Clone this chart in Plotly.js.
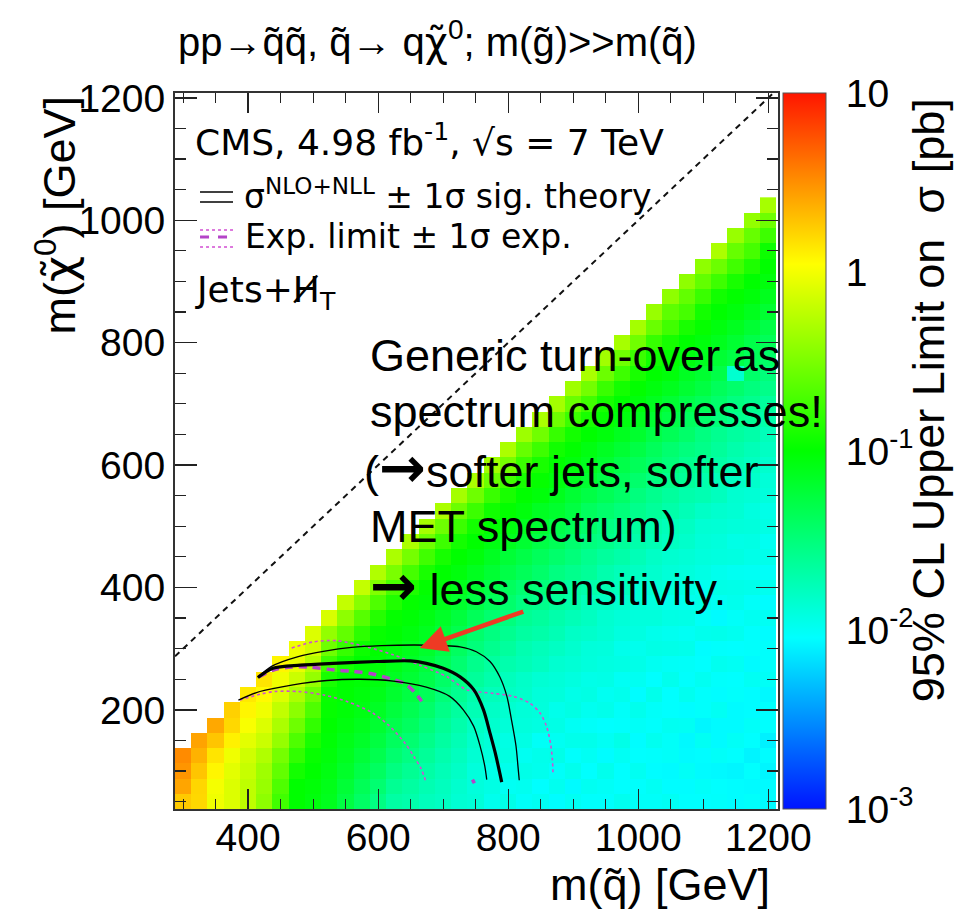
<!DOCTYPE html>
<html>
<head>
<meta charset="utf-8">
<script src="https://cdn.plot.ly/plotly-3.0.1.min.js"></script>
<style>
  html, body { margin: 0; padding: 0; background: #ffffff; }
  #chart { width: 972px; height: 917px; }
</style>
</head>
<body>
<div id="chart"></div>
<script>
// Squark masses (GeV), one heatmap column each
const mSquark = [300, 325, 350, 375, 400, 425, 450, 475, 500, 525, 550, 575, 600, 625, 650, 675, 700, 725,
                 750, 775, 800, 825, 850, 875, 900, 925, 950, 975, 1000, 1025, 1050, 1075, 1100, 1125, 1150, 1175, 1200];
// Neutralino (LSP) masses (GeV), one heatmap row each
const mLsp = [50, 75, 100, 125, 150, 175, 200, 225, 250, 275, 300, 325, 350, 375, 400, 425, 450, 475, 500, 525,
              550, 575, 600, 625, 650, 675, 700, 725, 750, 775, 800, 825, 850, 875, 900, 925, 950, 975, 1000, 1025];

// log10 of the 95% CL upper limit on sigma [pb]; one list per squark mass, from m(LSP)=50 upwards
const log10LimitPb = [
  [0.26, 0.41, 0.48, 0.52],
  [0.2, 0.21, 0.28, 0.36, 0.42],
  [-0.02, 0.0, 0.08, 0.15, 0.28, 0.4],
  [-0.1, -0.1, -0.07, -0.02, 0.1, 0.2, 0.23],
  [-0.22, -0.22, -0.19, -0.15, -0.07, 0.02, 0.08, 0.13],
  [-0.42, -0.38, -0.35, -0.28, -0.17, -0.1, -0.02, 0.06, 0.15],
  [-0.74, -0.68, -0.6, -0.52, -0.39, -0.3, -0.21, -0.1, -0.02, 0.08],
  [-1.0, -1.0, -0.92, -0.8, -0.68, -0.55, -0.43, -0.3, -0.17, -0.05, -0.02],
  [-1.05, -1.03, -1.0, -0.97, -0.9, -0.8, -0.68, -0.55, -0.39, -0.26, -0.14, -0.1],
  [-1.12, -1.1, -1.07, -1.04, -1.02, -1.0, -0.98, -0.97, -0.9, -0.75, -0.55, -0.4, -0.12],
  [-1.27, -1.22, -1.17, -1.13, -1.1, -1.06, -1.03, -1.01, -1.0, -0.92, -0.78, -0.6, -0.42, -0.2],
  [-1.41, -1.35, -1.29, -1.23, -1.17, -1.12, -1.08, -1.05, -1.02, -1.0, -0.95, -0.82, -0.65, -0.45, -0.2],
  [-1.53, -1.46, -1.39, -1.32, -1.26, -1.2, -1.15, -1.1, -1.06, -1.03, -1.0, -0.97, -0.85, -0.68, -0.48, -0.28],
  [-1.67, -1.6, -1.52, -1.45, -1.38, -1.31, -1.25, -1.19, -1.14, -1.09, -1.05, -1.01, -0.98, -0.87, -0.7, -0.5, -0.3],
  [-1.7, -1.66, -1.6, -1.53, -1.46, -1.39, -1.33, -1.27, -1.21, -1.16, -1.11, -1.06, -1.02, -0.98, -0.88, -0.72, -0.52, -0.3],
  [-1.77, -1.73, -1.68, -1.62, -1.56, -1.5, -1.43, -1.36, -1.3, -1.24, -1.18, -1.13, -1.08, -1.03, -0.99, -0.9, -0.74, -0.55, -0.32],
  [-1.8, -1.78, -1.75, -1.71, -1.66, -1.61, -1.55, -1.49, -1.42, -1.35, -1.28, -1.22, -1.16, -1.1, -1.04, -1.0, -0.91, -0.75, -0.55, -0.3],
  [-1.86, -1.84, -1.81, -1.78, -1.74, -1.7, -1.65, -1.59, -1.53, -1.46, -1.39, -1.32, -1.25, -1.18, -1.11, -1.05, -1.0, -0.92, -0.76, -0.56, -0.33],
  [-1.88, -1.9, -1.9, -1.86, -1.83, -1.8, -1.74, -1.7, -1.63, -1.57, -1.5, -1.44, -1.36, -1.28, -1.2, -1.13, -1.05, -1.0, -0.92, -0.76, -0.55, -0.3],
  [-1.97, -1.93, -1.95, -1.9, -1.88, -1.84, -1.81, -1.76, -1.7, -1.65, -1.58, -1.52, -1.45, -1.37, -1.3, -1.21, -1.14, -1.07, -1.0, -0.93, -0.77, -0.56, -0.34],
  [-1.95, -2.0, -1.96, -1.92, -1.93, -1.88, -1.85, -1.8, -1.77, -1.71, -1.64, -1.59, -1.51, -1.44, -1.38, -1.29, -1.22, -1.12, -1.06, -0.99, -0.9, -0.74, -0.52, -0.3],
  [-2.02, -1.98, -1.95, -1.99, -1.93, -1.9, -1.88, -1.83, -1.82, -1.75, -1.72, -1.66, -1.6, -1.53, -1.46, -1.36, -1.29, -1.2, -1.13, -1.05, -1.0, -0.91, -0.76, -0.58, -0.36],
  [-1.99, -2.04, -1.97, -1.96, -2.01, -1.92, -1.9, -1.89, -1.86, -1.79, -1.76, -1.69, -1.64, -1.57, -1.5, -1.43, -1.37, -1.28, -1.2, -1.14, -1.04, -0.98, -0.9, -0.75, -0.54, -0.3],
  [-2.05, -1.98, -2.02, -1.95, -1.99, -1.94, -1.96, -1.9, -1.88, -1.85, -1.8, -1.74, -1.7, -1.63, -1.58, -1.52, -1.44, -1.35, -1.3, -1.19, -1.12, -1.06, -1.0, -0.93, -0.78, -0.55, -0.33],
  [-2.0, -2.06, -1.97, -2.03, -1.96, -2.0, -1.93, -1.95, -1.91, -1.87, -1.84, -1.81, -1.75, -1.68, -1.65, -1.57, -1.5, -1.45, -1.36, -1.27, -1.21, -1.13, -1.05, -0.99, -0.92, -0.76, -0.57, -0.35],
  [-2.03, -1.99, -2.04, -2.0, -1.96, -2.02, -1.98, -1.93, -1.95, -1.9, -1.89, -1.83, -1.79, -1.77, -1.7, -1.62, -1.58, -1.51, -1.43, -1.38, -1.28, -1.2, -1.12, -1.07, -1.0, -0.9, -0.74, -0.53, -0.31],
  [-2.03, -2.01, -1.97, -2.05, -2.0, -2.04, -1.96, -1.99, -1.94, -1.92, -1.9, -1.86, -1.85, -1.8, -1.73, -1.71, -1.64, -1.56, -1.52, -1.44, -1.35, -1.29, -1.2, -1.14, -1.05, -0.98, -0.91, -0.77, -0.56, -0.34],
  [-1.98, -2.04, -2.04, -2.0, -1.95, -2.03, -2.02, -1.97, -2.0, -1.93, -1.96, -1.91, -1.88, -1.84, -1.78, -1.76, -1.69, -1.63, -1.59, -1.5, -1.42, -1.37, -1.3, -1.21, -1.13, -1.06, -1.0, -0.92, -0.75, -0.55, -0.32],
  [-2.02, -2.03, -1.99, -2.04, -2.05, -2.01, -1.97, -2.05, -1.99, -1.95, -1.97, -1.92, -1.9, -1.87, -1.86, -1.8, -1.75, -1.7, -1.65, -1.57, -1.51, -1.44, -1.36, -1.28, -1.19, -1.12, -1.05, -0.99, -0.9, -0.76, -0.54, -0.33],
  [-2.02, -2.0, -2.05, -2.03, -1.98, -2.03, -2.02, -1.96, -2.04, -1.99, -1.94, -1.96, -1.9, -1.91, -1.87, -1.84, -1.81, -1.74, -1.71, -1.63, -1.58, -1.52, -1.43, -1.37, -1.29, -1.2, -1.13, -1.06, -1.0, -0.93, -0.78, -0.57, -0.38],
  [-2.0, -2.05, -2.06, -2.02, -2.02, -1.99, -2.04, -2.04, -1.97, -2.01, -1.95, -1.98, -1.93, -1.96, -1.89, -1.88, -1.85, -1.79, -1.76, -1.69, -1.64, -1.57, -1.5, -1.45, -1.35, -1.28, -1.21, -1.12, -1.04, -0.99, -0.91, -0.74, -0.62, -0.42],
  [-2.04, -2.05, -2.01, -2.06, -2.07, -2.0, -2.05, -1.98, -2.03, -2.02, -1.96, -2.0, -1.94, -1.97, -1.92, -1.9, -1.87, -1.83, -1.8, -1.75, -1.7, -1.62, -1.58, -1.51, -1.43, -1.38, -1.3, -1.2, -1.14, -1.06, -1.0, -0.9, -0.72, -0.6, -0.42],
  [-2.04, -2.02, -2.06, -2.05, -2.0, -2.08, -2.03, -2.03, -1.99, -2.04, -2.05, -1.97, -2.01, -1.95, -1.98, -1.93, -1.9, -1.88, -1.86, -1.81, -1.73, -1.71, -1.64, -1.56, -1.52, -1.44, -1.36, -1.27, -1.2, -1.13, -1.05, -0.98, -0.92, -0.77, -0.6, -0.42],
  [-2.03, -2.04, -2.07, -2.02, -2.06, -2.06, -2.0, -2.05, -2.03, -1.98, -2.03, -1.96, -2.06, -1.99, -1.94, -1.97, -1.91, -1.9, -1.87, -1.84, -1.78, -1.76, -1.68, -1.63, -1.59, -1.5, -1.44, -1.37, -1.29, -1.21, -1.12, -1.06, -1.0, -0.93, -0.75, -0.56, -0.3],
  [-2.05, -2.05, -2.08, -2.04, -2.01, -2.06, -2.06, -2.03, -2.04, -2.0, -2.04, -1.98, -2.02, -1.97, -1.95, -1.99, -1.92, -1.94, -1.89, -1.86, -1.85, -1.8, -1.74, -1.7, -1.65, -1.57, -1.52, -1.44, -1.85, -1.28, -1.2, -1.13, -1.05, -0.99, -0.9, -0.74, -0.58, -0.38],
  [-2.03, -2.06, -2.04, -2.09, -2.04, -2.02, -2.05, -2.05, -2.0, -2.06, -2.03, -2.03, -1.99, -2.02, -1.96, -2.0, -1.95, -1.93, -1.9, -1.91, -1.87, -1.83, -1.79, -1.75, -1.69, -1.62, -1.58, -1.51, -1.43, -1.37, -1.3, -1.21, -1.12, -1.04, -1.0, -0.88, -0.72, -0.58, -0.4],
  [-2.06, -2.06, -2.08, -2.05, -2.1, -2.04, -2.04, -2.07, -2.01, -2.03, -2.03, -2.05, -2.0, -2.05, -1.98, -2.02, -1.96, -1.99, -1.93, -1.95, -1.9, -1.88, -1.84, -1.8, -1.76, -1.7, -1.64, -1.56, -1.5, -1.42, -1.36, -1.29, -1.2, -1.12, -1.05, -1.0, -0.95, -0.75, -0.55, -0.32]
];

// Exclusion contours in the (m(squark), m(LSP)) plane, GeV
const obsX = [415, 438, 480, 531, 598, 649, 674, 700, 726, 747, 762, 772, 780, 787, 790];
const obsY = [253, 268, 273, 276, 279, 280, 276, 268, 254, 233, 200, 162, 130, 97, 82];
const obsUpX = [415, 436, 477, 518, 559, 605, 656, 700, 726, 751, 772, 787, 798, 805, 812, 815, 817];
const obsUpY = [253, 271, 287, 296, 302, 305, 306, 305, 303, 295, 279, 254, 222, 184, 141, 108, 85];
const obsDnX = [385, 418, 469, 521, 572, 623, 674, 710, 731, 747, 757, 764, 767];
const obsDnY = [216, 230, 241, 248, 250, 247, 237, 222, 200, 173, 140, 108, 86];
const expX = [416, 441, 467, 493, 533, 559, 590, 621, 641, 655, 667];
const expY = [254, 266, 270, 270, 265, 263, 259, 250, 243, 230, 214];
const expTailX = [745, 748];
const expTailY = [86, 80];
const expUpX = [467, 500, 536, 582, 623, 664, 706, 736, 777, 808, 833, 849, 859, 865, 868, 869];
const expUpY = [301, 311, 313, 303, 290, 273, 254, 233, 227, 222, 211, 195, 173, 146, 119, 94];
const expDnX = [387, 420, 441, 477, 518, 554, 590, 615, 641, 656, 666, 674];
const expDnY = [216, 226, 230, 230, 224, 213, 196, 176, 146, 122, 104, 81];
// m(LSP) = m(squark) reference line
const diagMass = [287.5, 1215];

// colour bar ticks (log10 sigma)
const cbMajor = [-3, -2, -1, 0, 1];
const cbMajorText = ['10<sup>-3</sup>', '10<sup>-2</sup>', '10<sup>-1</sup>', '1', '10'];

// ---- build the heatmap matrix (rows = LSP mass, columns = squark mass) ----
const z = mLsp.map((_, r) => mSquark.map((_, c) => {
  const col = log10LimitPb[c];
  return (col && r < col.length) ? col[r] : null;
}));

// rainbow palette: hue runs from blue (low limits) to red (high limits)
function hueToRgb(h) {
  const f = n => {
    const k = (n + h / 30) % 12;
    return 0.5 - 0.5 * Math.max(-1, Math.min(k - 3, 9 - k, 1));
  };
  return 'rgb(' + Math.round(255 * f(0)) + ',' + Math.round(255 * f(8)) + ',' + Math.round(255 * f(4)) + ')';
}
const palette = [];
for (let i = 0; i <= 46; i++) {
  const t = i / 46;
  palette.push([t, hueToRgb(235 - 230 * t)]);
}

const cbMinor = [];
for (let d = -3; d < 1; d++) {
  for (let m = 2; m <= 9; m++) cbMinor.push(d + Math.log10(m));
}

const FONT = '"Liberation Sans", Arial, Helvetica, sans-serif';
const WIDE = '"DejaVu Sans", "Liberation Sans", sans-serif';
const TXT = '#000000';
const MAG_DASH = '#b444c8';
const MAG_DOT = '#d24ed2';
const CLEAR = [[0, 'rgba(0,0,0,0)'], [1, 'rgba(0,0,0,0)']];

const cbCommon = {
  x: 1.0083, xanchor: 'left', xref: 'paper', xpad: 0,
  y: 0.5, yanchor: 'middle', ypad: 0,
  len: 1, lenmode: 'fraction',
  thickness: 43, thicknessmode: 'pixels'
};

// transparent scale used only to draw tick marks on top of the gradient
function tickScale(vals, len) {
  return {
    type: 'heatmap', x: [0], y: [0], z: [[null]],
    zmin: -3, zmax: 1, hoverinfo: 'skip', colorscale: CLEAR,
    colorbar: Object.assign({}, cbCommon, {
      outlinewidth: 0, bgcolor: 'rgba(0,0,0,0)',
      tickmode: 'array', tickvals: vals,
      ticks: 'inside', ticklen: len, tickwidth: 1.3, tickcolor: '#111111',
      showticklabels: false
    })
  };
}

function curve(x, y, color, width, dash) {
  return { type: 'scatter', mode: 'lines', x: x, y: y, hoverinfo: 'skip',
           line: { color: color, width: width, dash: dash || 'solid', shape: 'spline', smoothing: 0.8 } };
}

const traces = [
  {
    type: 'heatmap', x: mSquark, y: mLsp, z: z,
    zmin: -3, zmax: 1, zsmooth: false,
    colorscale: palette, hoverinfo: 'skip',
    colorbar: Object.assign({}, cbCommon, {
      outlinewidth: 1, outlinecolor: '#555555',
      tickmode: 'array', tickvals: cbMajor, ticktext: cbMajorText,
      ticks: 'outside', ticklen: 12, tickcolor: 'rgba(0,0,0,0)',
      tickfont: { family: FONT, size: 39, color: TXT }
    })
  },
  tickScale(cbMajor, 13),
  tickScale(cbMinor, 8),
  { type: 'scatter', mode: 'lines', x: diagMass, y: diagMass, hoverinfo: 'skip',
    line: { color: '#111111', width: 2, dash: '6px,5px' } },
  curve(expUpX, expUpY, MAG_DOT, 1.6, 'dot'),
  curve(expDnX, expDnY, MAG_DOT, 1.6, 'dot'),
  curve(expX, expY, MAG_DASH, 3.5, '8px,6px'),
  curve(expTailX, expTailY, MAG_DASH, 3.5),
  curve(obsUpX, obsUpY, '#000000', 1.3),
  curve(obsDnX, obsDnY, '#000000', 1.3),
  curve(obsX, obsY, '#000000', 3.2)
];

const axisCommon = {
  showgrid: false, zeroline: false,
  showline: true, linecolor: '#333333', linewidth: 2, mirror: 'allticks',
  ticks: 'inside', tickcolor: '#222222', tickwidth: 1.3,
  tickfont: { family: FONT, size: 39, color: TXT },
  tick0: 0, dtick: 200,
  minor: { dtick: 50, tick0: 0, ticks: 'inside', ticklen: 10, tickcolor: '#222222', tickwidth: 1.2 }
};

function ann(text, x, y, size, extra) {
  return Object.assign({
    text: text, x: x, y: y, xref: 'paper', yref: 'paper',
    xanchor: 'left', yanchor: 'middle', showarrow: false,
    font: { family: FONT, size: size, color: TXT }
  }, extra || {});
}

const q = 'q\u0303';
// neutralino symbol: the tilde is set in DejaVu Sans so that it sits on the chi
const chi0 = '<span style="font-family:\'DejaVu Sans\'">\u03c7\u0303</span><sup>0</sup>';
const arrow = '<span style="font-family:\'DejaVu Sans\';font-weight:bold;font-size:56px">\u2192</span>';
const wideFont = size => ({ font: { family: WIDE, size: size, color: TXT } });

const annotations = [
  ann('pp\u2192' + q + q + ', ' + q + '\u2192 q' + chi0 + '; m(g\u0303)&gt;&gt;m(' + q + ')',
      0.4345, 1.075, 40, { xanchor: 'center' }),
  ann('CMS, 4.98 fb<sup>-1</sup>, \u221as = 7 TeV', 0.03, 0.934, 36, wideFont(36)),
  ann('\u03c3<sup>NLO+NLL</sup> \u00b1 1\u03c3 sig. theory', 0.111, 0.858, 33, wideFont(33)),
  ann('Exp. limit \u00b1 1\u03c3 exp.', 0.113, 0.799, 33, wideFont(33)),
  ann('Jets+<span style="font-family:\'DejaVu Sans\'">H\u0338</span><sub>T</sub>', 0.03, 0.721, 36, wideFont(36)),
  // squark-mass axis title
  ann('m(' + q + ') [GeV]', 0.99, -0.106, 45, { xanchor: 'right' }),
  // LSP-mass axis title
  ann('m(' + chi0 + ') [GeV]', -0.1957, 1.0, 45, { xanchor: 'center', yanchor: 'top', textangle: -90 }),
  // colour scale title
  ann('95% CL Upper Limit on  \u03c3 [pb]', 1.2488, 0.571, 45, { xanchor: 'center', textangle: -90 }),
  // comment box on the compressed region
  ann('Generic turn-over as', 0.32, 0.634, 45),
  ann('spectrum compresses!', 0.32, 0.5545, 45),
  ann('(' + arrow + 'softer jets, softer', 0.31, 0.4763, 45),
  ann('MET spectrum)', 0.32, 0.3939, 45),
  ann(arrow + ' less sensitivity.', 0.32, 0.3128, 45),
  // arrow pointing at the turn-over of the +1 sigma theory contour
  { x: 664, y: 301, xref: 'x', yref: 'y', text: '', showarrow: true,
    ax: 105, ay: -37, arrowcolor: '#ee3a24', arrowwidth: 4.5, arrowhead: 2, arrowsize: 1.2, standoff: 0 }
];

// legend line samples
function seg(y, color, width, dash) {
  return { type: 'line', xref: 'paper', yref: 'paper', x0: 0.0415, x1: 0.0962, y0: y, y1: y,
           line: { color: color, width: width, dash: dash || 'solid' } };
}
const shapes = [
  seg(0.8617, '#000000', 1.6),
  seg(0.8478, '#000000', 1.6),
  seg(0.8087, MAG_DOT, 1.6, 'dot'),
  seg(0.7989, MAG_DASH, 3, 'dash'),
  seg(0.7849, MAG_DOT, 1.6, 'dot')
];

const layout = {
  width: 972, height: 917,
  margin: { l: 175, r: 194, t: 93, b: 108 },
  paper_bgcolor: '#ffffff', plot_bgcolor: '#ffffff',
  font: { family: FONT, color: TXT },
  showlegend: false,
  xaxis: Object.assign({}, axisCommon, { range: [287.5, 1215], ticklen: 20, ticklabelstandoff: -7 }),
  yaxis: Object.assign({}, axisCommon, { range: [38, 1208], ticklen: 22,
    minor: Object.assign({}, axisCommon.minor, { ticklen: 11 }) }),
  annotations: annotations,
  shapes: shapes
};

Plotly.newPlot('chart', traces, layout, { staticPlot: true, displayModeBar: false });
</script>
</body>
</html>
